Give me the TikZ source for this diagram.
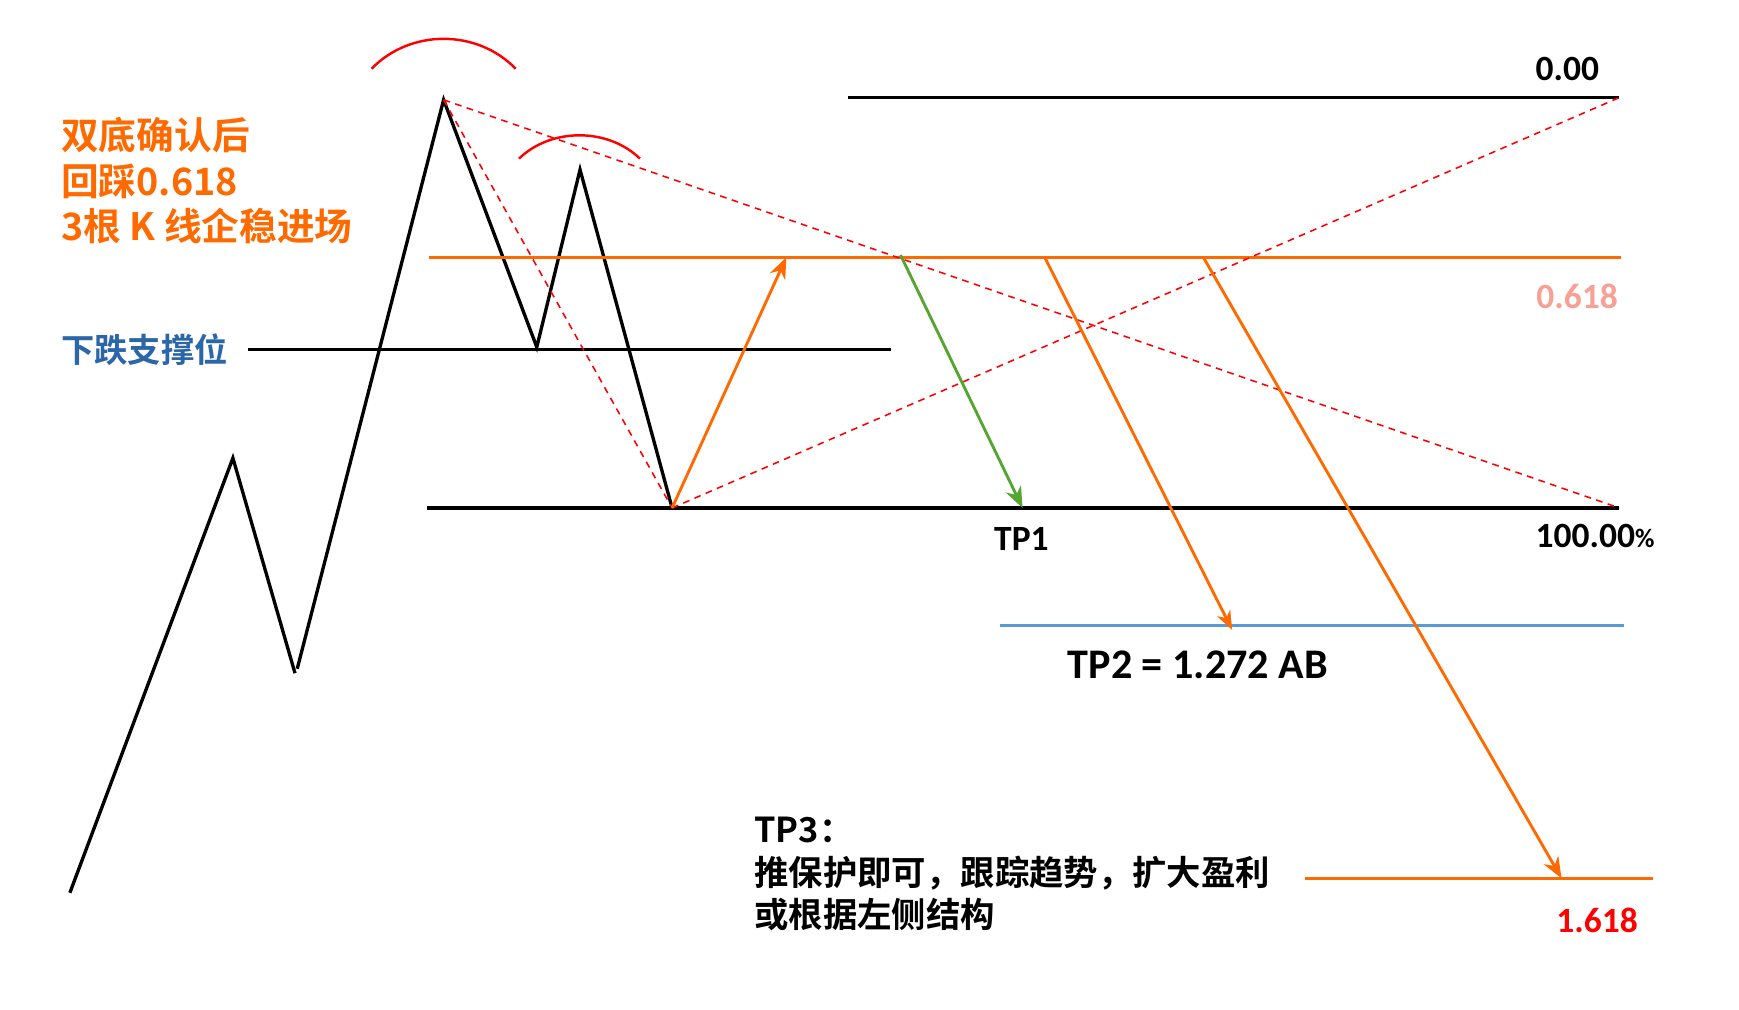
\documentclass[tikz,border=0pt]{standalone}
\usepackage{fontspec}
\usetikzlibrary{arrows.meta,positioning}
\newfontfamily\cjk{Noto Sans CJK SC Bold}
\newfontfamily\lat{Carlito}[BoldFont=* Bold]
\definecolor{fibo}{HTML}{FF6A00}
\definecolor{tpgreen}{HTML}{55A630}
\definecolor{tpblue}{HTML}{5B9BD5}
\definecolor{suptext}{HTML}{2A66A8}
\definecolor{salmon}{HTML}{F8A096}
\tikzset{
  wave/.style={line width=3pt,line join=miter},
  lvl/.style={line width=3pt},
  guide/.style={red,line width=1.4pt,dash pattern=on 6pt off 5pt},
  hump/.style={red,line width=2.2pt},
  move/.style={line width=2.6pt,-{Stealth[length=19pt,width=15pt,inset=6pt]}},
  lbl/.style={inner sep=0pt,font=\lat\bfseries\fontsize{32}{38}\selectfont},
  note/.style={inner sep=0pt,align=left,font=\cjk\fontsize{31}{38}\selectfont}
}

\begin{document}
\begin{tikzpicture}[x=1pt,y=-1pt]
\useasboundingbox (0,0) rectangle (1568,910);
% price swing
\coordinate (s0) at (63,805);
\coordinate (p1) at (210,413);
\coordinate (l1) at (266,607);
\coordinate (l2) at (268,603);
\coordinate (A) at (400,90);
\coordinate (v) at (484,313);
\coordinate (p2) at (523,153);
\coordinate (B) at (606,458);
\draw[wave] (s0) -- (p1) -- (l1);
\draw[wave] (l2) -- (A) -- (v) -- (p2) -- (B);
% double top arcs
\draw[hump] (335,62) .. controls (370,26) and (430,26) .. (465,62);
\draw[hump] (468,143) .. controls (497,115) and (548,115) .. (577,143);
% levels
\draw[lvl] (765,88) -- (1460,88);
\draw[lvl,fibo] (387,232) -- (1462,232);
\draw[lvl] (224,315) -- (803,315);
\draw[lvl] (385,458) -- (1460,458);
\draw[lvl,tpblue] (902,564) -- (1464,564);
\draw[lvl,fibo] (1177,792) -- (1490,792);
% fib guides
\coordinate (r0) at (1460,88);
\coordinate (r1) at (1460,458);
\draw[guide] (A) -- (r1);
\draw[guide] (A) -- (B);
\draw[guide] (B) -- (r0);
% moves
\draw[move,fibo] (B) -- (709,232);
\draw[move,tpgreen] (812,230) -- (922,458);
\draw[move,fibo,-{Stealth[length=17pt,width=13pt,inset=5pt]}] (942,232) -- (1111,568);
\draw[move,fibo] (1085,232) -- (1408,792);
% labels
\node[lbl,anchor=east] (zero) at (1442,62) {0.00};
\node[lbl,anchor=east,text=salmon] (fib) at (1459,267) {0.618};
\node[lbl,anchor=east] (full) at (1492,483) {100.00{\fontsize{24}{28}\selectfont\%}};
\node[lbl] (tp1) at (921,486) {TP1};
\node[lbl,font=\lat\bfseries\fontsize{38}{44}\selectfont] (tp2) at (1080,599) {TP2 = 1.272 AB};
\node[lbl,text=red] (ext) at (1440,830) {1.618};
\node[note,anchor=west,text=fibo,font=\cjk\fontsize{34}{41}\selectfont] (entry) at (55,163) {双底确认后\\回踩0.618\\3根 K 线企稳进场};
\node[note,anchor=west,text=suptext,font=\cjk\fontsize{30}{36}\selectfont] (sup) at (55,315) {下跌支撑位};
\node[note,anchor=west] (tp3) at (680,788) {TP3：\\推保护即可，跟踪趋势，扩大盈利\\或根据左侧结构};
\end{tikzpicture}
\end{document}
